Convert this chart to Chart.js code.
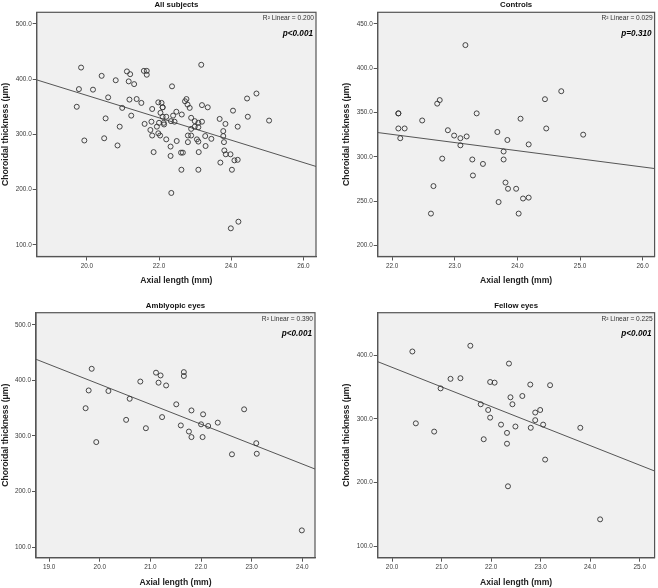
<!DOCTYPE html>
<html><head><meta charset="utf-8">
<script src="https://cdn.jsdelivr.net/npm/chart.js@4.4.0/dist/chart.umd.min.js"></script>
<style>
html,body{margin:0;padding:0;background:#fff;width:658px;height:588px;overflow:hidden;}
canvas{position:absolute;display:block;}
</style></head><body>
<canvas id="c1" width="329" height="290" style="left:0;top:0;width:329px;height:290px"></canvas>
<canvas id="c2" width="317" height="290" style="left:341px;top:0;width:317px;height:290px"></canvas>
<canvas id="c3" width="329" height="294" style="left:0;top:294px;width:329px;height:294px"></canvas>
<canvas id="c4" width="317" height="294" style="left:341px;top:294px;width:317px;height:294px"></canvas>
<script>
// ---- data ----
const controlsAxial = [22.10, 22.10, 22.10, 22.20, 22.13, 22.48, 22.66, 22.62, 22.72, 22.76, 22.80, 22.89, 22.99, 23.09, 23.09, 23.19, 23.17, 23.28, 23.29, 23.35, 23.45, 23.68, 23.70, 23.84, 23.78, 23.78, 23.81, 23.85, 23.98, 24.02, 24.05, 24.09, 24.18, 24.18, 24.44, 24.46, 24.70, 25.05];
const controlsThickness = [349, 349, 332, 332, 321, 341, 267, 236, 360, 364, 298, 330, 324, 321, 313, 323, 426, 297, 279, 349, 292, 328, 249, 319, 306, 297, 271, 264, 264, 236, 343, 253, 254, 314, 365, 332, 374, 325];

const amblyopicAxial = [19.72, 19.78, 19.84, 19.93, 20.17, 20.52, 20.59, 20.80, 20.91, 21.11, 21.20, 21.16, 21.23, 21.31, 21.51, 21.60, 21.66, 21.66, 21.81, 21.76, 21.81, 22.04, 22.00, 22.03, 22.14, 22.33, 22.61, 22.85, 23.09, 23.10, 23.99];
const amblyopicThickness = [350, 382, 421, 289, 381, 329, 367, 398, 314, 414, 409, 396, 334, 391, 357, 319, 415, 408, 346, 308, 298, 339, 321, 298, 318, 324, 267, 348, 287, 268, 130];

const fellowAxial = [20.41, 20.48, 20.85, 20.98, 21.18, 21.38, 21.58, 21.79, 21.94, 21.98, 22.07, 21.98, 21.85, 22.20, 22.36, 22.39, 22.43, 22.32, 22.32, 22.49, 22.34, 22.63, 22.79, 22.89, 22.89, 22.99, 22.80, 23.05, 23.19, 23.09, 23.80, 24.20];
const fellowThickness = [406, 293, 280, 348, 363, 364, 415, 323, 314, 358, 357, 302, 268, 291, 387, 334, 323, 278, 261, 288, 194, 336, 354, 310, 298, 314, 286, 291, 353, 236, 286, 142];

// All subjects = every eye from the three groups
const allAxial = controlsAxial.concat(amblyopicAxial, fellowAxial);
const allThickness = controlsThickness.concat(amblyopicThickness, fellowThickness);

// fitted linear regression lines (end points read at the axis edges)
const allFitX = [18.61, 26.35], allFitY = [398.7, 242.0];
const controlsFitX = [21.77, 26.19], controlsFitY = [327.4, 286.8];
const amblyopicFitX = [18.74, 24.25], amblyopicFitY = [438.1, 240.5];
const fellowFitX = [19.71, 25.30], fellowFitY = [390.0, 218.0];

const panelTitles = ['All subjects', 'Controls', 'Amblyopic eyes', 'Fellow eyes'];
const r2Labels = ['R\u00B2 Linear = 0.200', 'R\u00B2 Linear = 0.029', 'R\u00B2 Linear = 0.390', 'R\u00B2 Linear = 0.225'];
const pLabels = ['p<0.001', 'p=0.310', 'p<0.001', 'p<0.001'];
const xTitle = 'Axial length (mm)';
const yTitle = 'Choroidal thickness (\u03BCm)';

// ---- drawing ----
const FONT = '"Liberation Sans", Arial, Helvetica, sans-serif';
const framePlugin = {
  id: 'frame',
  beforeDraw(chart) {
    const {ctx, chartArea: a} = chart;
    ctx.save();
    ctx.fillStyle = '#F0F0F0';
    ctx.fillRect(a.left, a.top, a.right - a.left, a.bottom - a.top);
    ctx.restore();
  },
  afterDraw(chart, args, o) {
    const {ctx, chartArea: a} = chart;
    ctx.save();
    ctx.strokeStyle = '#555';
    ctx.lineWidth = 1.2;
    ctx.strokeRect(a.left, a.top, a.right - a.left, a.bottom - a.top);
    ctx.textBaseline = 'middle';
    ctx.textAlign = 'center';
    ctx.fillStyle = '#111';
    ctx.font = 'bold 7.8px ' + FONT;
    ctx.fillText(o.title, (a.left + a.right) / 2, a.top - 7);
    ctx.textAlign = 'right';
    ctx.fillStyle = '#333';
    ctx.font = '6.6px ' + FONT;
    ctx.fillText(o.r2, a.right - 2, a.top + 6);
    ctx.fillStyle = '#000';
    ctx.font = 'italic bold 8.2px ' + FONT;
    ctx.fillText(o.p, a.right - 3, a.top + 21);
    ctx.restore();
  }
};

function pts(xs, ys) { return xs.map((x, i) => ({x: x, y: ys[i]})); }

function makePanel(id, c) {
  new Chart(document.getElementById(id), {
    type: 'scatter',
    data: {
      datasets: [
        {
          data: pts(c.xs, c.ys),
          pointStyle: 'circle', pointRadius: 2.5, pointHoverRadius: 2.5,
          borderColor: '#333', backgroundColor: 'rgba(0,0,0,0)', borderWidth: 0.9
        },
        {
          type: 'line',
          data: pts(c.fx, c.fy),
          borderColor: '#555', borderWidth: 1, pointRadius: 0, fill: false, tension: 0
        }
      ]
    },
    options: {
      responsive: false, animation: false, events: [],
      layout: {padding: {top: c.padTop, right: c.padRight, left: 0, bottom: 0}},
      plugins: {
        legend: {display: false}, tooltip: {enabled: false},
        frame: {title: c.title, r2: c.r2, p: c.p}
      },
      scales: {
        x: {
          type: 'linear', min: c.xMin, max: c.xMax,
          afterFit: s => { s.height = c.xH; },
          ticks: {stepSize: c.xStep, includeBounds: false, callback: v => v.toFixed(1),
                  font: {size: 6.4, family: FONT}, color: '#3a3a3a', padding: 2, maxRotation: 0, autoSkip: false},
          grid: {drawOnChartArea: false, drawTicks: true, tickLength: 4, color: '#555', tickWidth: 1},
          border: {display: true, color: '#555', width: 1.2},
          title: {display: true, text: xTitle, font: {size: 8.6, weight: 'bold', family: FONT}, color: '#222',
                  padding: {top: 0, bottom: c.xTitlePad}}
        },
        y: {
          type: 'linear', min: c.yMin, max: c.yMax,
          afterFit: s => { s.width = c.yW; },
          ticks: {stepSize: c.yStep, includeBounds: false, callback: v => v.toFixed(1),
                  font: {size: 6.4, family: FONT}, color: '#3a3a3a', padding: 1, autoSkip: false},
          grid: {drawOnChartArea: false, drawTicks: true, tickLength: 4, color: '#555', tickWidth: 1},
          border: {display: true, color: '#555', width: 1.2},
          title: {display: true, text: yTitle, font: {size: 8.6, weight: 'bold', family: FONT}, color: '#222',
                  padding: {top: 0, bottom: 0}}
        }
      }
    },
    plugins: [framePlugin]
  });
}

makePanel('c1', {xs: allAxial, ys: allThickness, fx: allFitX, fy: allFitY,
  title: panelTitles[0], r2: r2Labels[0], p: pLabels[0],
  xMin: 18.61, xMax: 26.35, xStep: 2, yMin: 79, yMax: 521, yStep: 100,
  padTop: 12.3, padRight: 13, yW: 36.7, xH: 33.5, xTitlePad: 3.8});
makePanel('c2', {xs: controlsAxial, ys: controlsThickness, fx: controlsFitX, fy: controlsFitY,
  title: panelTitles[1], r2: r2Labels[1], p: pLabels[1],
  xMin: 21.77, xMax: 26.19, xStep: 1, yMin: 187.6, yMax: 463, yStep: 50,
  padTop: 12.3, padRight: 1, yW: 36.7, xH: 33.5, xTitlePad: 3.8});
makePanel('c3', {xs: amblyopicAxial, ys: amblyopicThickness, fx: amblyopicFitX, fy: amblyopicFitY,
  title: panelTitles[2], r2: r2Labels[2], p: pLabels[2],
  xMin: 18.74, xMax: 24.25, xStep: 1, yMin: 80.8, yMax: 522, yStep: 100,
  padTop: 18.7, padRight: 14, yW: 36, xH: 30.3, xTitlePad: 0});
makePanel('c4', {xs: fellowAxial, ys: fellowThickness, fx: fellowFitX, fy: fellowFitY,
  title: panelTitles[3], r2: r2Labels[3], p: pLabels[3],
  xMin: 19.71, xMax: 25.30, xStep: 1, yMin: 81.7, yMax: 467, yStep: 100,
  padTop: 18.7, padRight: 1, yW: 36.7, xH: 30.3, xTitlePad: 0});
</script>
</body></html>
